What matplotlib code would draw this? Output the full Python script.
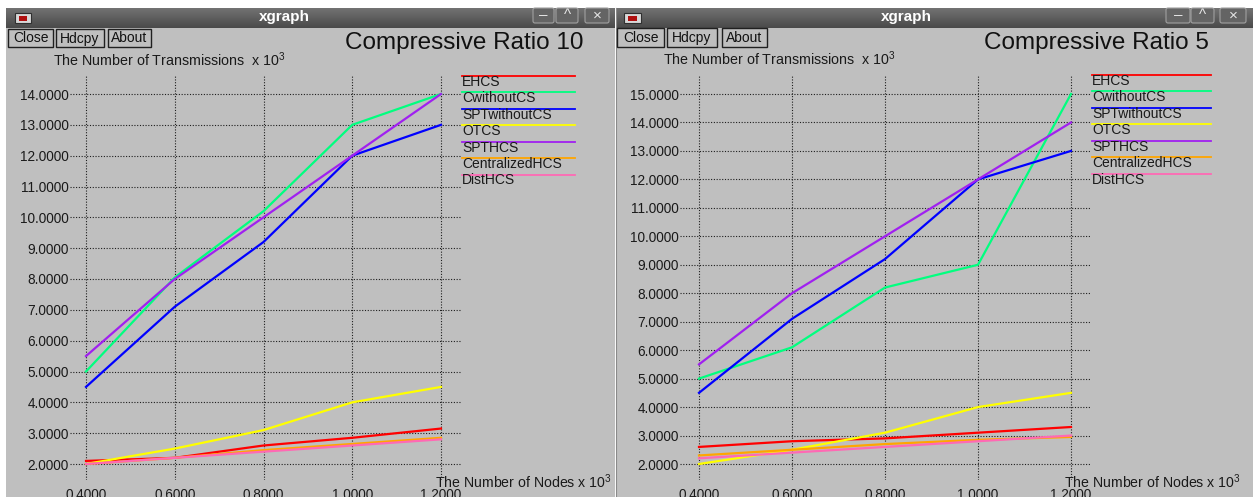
import numpy as np
import matplotlib
matplotlib.use('Agg')
import matplotlib.pyplot as plt
from matplotlib.patches import Rectangle, FancyBboxPatch

plt.rcParams['font.family'] = ['Liberation Sans', 'DejaVu Sans']
plt.rcParams['mathtext.fontset'] = 'custom'
plt.rcParams['mathtext.rm'] = 'Liberation Sans'
plt.rcParams['mathtext.it'] = 'Liberation Sans:italic'

# data (x in units of 10^3 nodes, y in units of 10^3 transmissions)
nodes = [0.4, 0.6, 0.8, 1.0, 1.2]
names = ['EHCS', 'CwithoutCS', 'SPTwithoutCS', 'OTCS', 'SPTHCS', 'CentralizedHCS', 'DistHCS']
colors = ['#ff0000', '#00ff7f', '#0000ff', '#ffff00', '#a020f0', '#ffa500', '#ff69b4']

r10_ehcs = [2.1, 2.2, 2.6, 2.85, 3.15]
r10_cwithout = [5.0, 8.05, 10.2, 13.0, 14.0]
r10_sptwithout = [4.5, 7.1, 9.2, 12.0, 13.0]
r10_otcs = [2.0, 2.5, 3.1, 4.0, 4.5]
r10_spthcs = [5.5, 8.0, 10.0, 12.0, 14.0]
r10_central = [2.0, 2.2, 2.45, 2.65, 2.85]
r10_dist = [2.0, 2.2, 2.4, 2.6, 2.8]

r5_ehcs = [2.6, 2.8, 2.9, 3.1, 3.3]
r5_cwithout = [5.0, 6.1, 8.2, 9.0, 15.0]
r5_sptwithout = [4.5, 7.1, 9.2, 12.0, 13.0]
r5_otcs = [2.0, 2.5, 3.1, 4.0, 4.5]
r5_spthcs = [5.5, 8.0, 10.0, 12.0, 14.0]
r5_central = [2.3, 2.5, 2.7, 2.85, 2.95]
r5_dist = [2.2, 2.4, 2.6, 2.8, 3.0]

r10_ticks = [2, 3, 4, 5, 6, 7, 8, 9, 10, 11, 12, 13, 14]
r5_ticks = [2, 3, 4, 5, 6, 7, 8, 9, 10, 11, 12, 13, 14, 15]

W, H = 1253, 497
BG = '#bfbfbf'

fig = plt.figure(figsize=(W / 100, H / 100), dpi=100)
fig.patch.set_facecolor('white')
bg = fig.add_axes([0, 0, 1, 1])
bg.set_xlim(0, W)
bg.set_ylim(H, 0)
bg.axis('off')


def px_rect(x0, y0, x1, y1):
    return [x0 / W, 1 - y1 / H, (x1 - x0) / W, (y1 - y0) / H]


def draw_window(x0, x1, title_x, ctrl, icon, buttons):
    bg.add_patch(Rectangle((x0, 8), x1 - x0, H - 8, facecolor=BG, edgecolor='none'))
    grad = np.linspace(0, 1, 20).reshape(-1, 1)
    bg.imshow(grad, cmap=matplotlib.colors.LinearSegmentedColormap.from_list('tb', ['#727272', '#4a4a4a']),
              extent=(x0, x1, 28, 8), aspect='auto', zorder=1)
    bg.set_xlim(0, W)
    bg.set_ylim(H, 0)
    bg.text(title_x, 17.5, 'xgraph', color='white', fontsize=11, fontweight='bold',
            ha='center', va='center', zorder=3)
    # window icon
    ix0, ix1 = icon
    bg.add_patch(Rectangle((ix0, 13), ix1 - ix0, 10, facecolor='#d8d8d8', edgecolor='#303030', lw=0.8, zorder=3))
    bg.add_patch(Rectangle((ix0 + 4, 15.5), ix1 - ix0 - 8, 5, facecolor='#b01010', edgecolor='none', zorder=4))
    # window controls
    for (cx0, cx1), sym in zip(ctrl, ['\u2013', '^', '\u00d7']):
        bg.add_patch(FancyBboxPatch((cx0, 8), cx1 - cx0, 15, boxstyle='round,pad=0,rounding_size=2',
                                    facecolor='#646464', edgecolor='#a0a0a0', lw=0.8, zorder=3))
        bg.text((cx0 + cx1) / 2, 15.5, sym, color='#e6e6e6', fontsize=11, ha='center', va='center', zorder=4)
    # buttons
    for (bx0, bx1, by0, by1), lab in zip(buttons, ['Close', 'Hdcpy', 'About']):
        bg.add_patch(Rectangle((bx0, by0), bx1 - bx0, by1 - by0, facecolor=BG, edgecolor='#202020', lw=1.0, zorder=3))
        bg.text((bx0 + bx1) / 2, (by0 + by1) / 2 + 0.5, lab, fontsize=10, color='#111111',
                ha='center', va='center', zorder=4)


draw_window(6, 615, 284, [(533, 554), (556, 578), (585, 609)], (15, 31),
            [(8, 53, 29, 47), (56, 104, 29, 47), (108, 151, 29, 47)])
draw_window(616, W, 906, [(1166, 1190), (1191, 1214), (1220, 1246)], (624, 641),
            [(617, 664, 28, 47), (667, 717, 28, 47), (722, 767, 28, 47)])
bg.plot([615.5, 615.5], [8, H], color='#8a8a8a', lw=0.8, zorder=2)


def draw_chart(box, x_px, y_px, y_vals, ticks, data, title, title_x, ylab_x, ylab_y,
               xlab_x, leg_x, leg_y):
    ax0, ay0, ax1, ay1 = box
    # pixel positions of the first/last grid values
    (xa, xb), (ya, yb) = x_px, y_px
    sx = (xb - xa) / (nodes[-1] - nodes[0])
    sy = (ya - yb) / (y_vals[1] - y_vals[0])
    ax = fig.add_axes(px_rect(ax0, ay0, ax1, ay1))
    ax.set_facecolor('none')
    ax.set_xlim(nodes[0] - (xa - ax0) / sx, nodes[-1] + (ax1 - xb) / sx)
    ax.set_ylim(y_vals[0] - (ay1 - ya) / sy, y_vals[1] + (yb - ay0) / sy)
    for vals, c in zip(data, colors):
        ax.plot(nodes, vals, color=c, lw=1.6, zorder=3)
    ax.set_xticks(nodes)
    ax.set_xticklabels(['%.4f' % v for v in nodes])
    ax.set_yticks(ticks)
    ax.set_yticklabels(['%.4f' % v for v in ticks])
    ax.tick_params(length=0, labelsize=9.8, colors='#1a1a1a')
    ax.tick_params(axis='y', pad=1)
    ax.tick_params(axis='x', pad=6)
    for s in ax.spines.values():
        s.set_visible(False)
    ax.grid(True, color='#1e1e1e', linestyle=(0, (1, 1.5)), linewidth=0.8, zorder=1)
    ax.set_axisbelow(True)

    bg.text(title_x, 43, title, fontsize=17.5, color='#111111', ha='left', va='center', zorder=4)
    bg.text(ylab_x, ylab_y, r'The Number of Transmissions  x 10$^3$', fontsize=10.3,
            color='#1a1a1a', ha='left', va='baseline', zorder=4)
    bg.text(xlab_x, 488, r'The Number of Nodes x 10$^3$', fontsize=10.2,
            color='#1a1a1a', ha='left', va='baseline', zorder=6)
    for i, (nm, c) in enumerate(zip(names, colors)):
        yy = leg_y[0] + i * (leg_y[1] - leg_y[0]) / 6
        bg.plot([leg_x[0], leg_x[1]], [yy, yy], color=c, lw=1.3, zorder=4)
        bg.text(leg_x[0], yy + 10, nm, fontsize=10, color='#1a1a1a', ha='left', va='baseline', zorder=4)
    return ax


draw_chart((70, 75, 461, 480), (86, 441), (464, 94), (2, 14), r10_ticks,
           [r10_ehcs, r10_cwithout, r10_sptwithout, r10_otcs, r10_spthcs, r10_central, r10_dist],
           'Compressive Ratio 10', 345, 53, 66, 435, (462, 575), (76, 174.5))
draw_chart((680, 75, 1090, 480), (699, 1071), (464, 94), (2, 15), r5_ticks,
           [r5_ehcs, r5_cwithout, r5_sptwithout, r5_otcs, r5_spthcs, r5_central, r5_dist],
           'Compressive Ratio 5', 984, 663, 65, 1064, (1092, 1211), (75, 173.7))

fig.savefig('out.png', dpi=100, facecolor='white')
